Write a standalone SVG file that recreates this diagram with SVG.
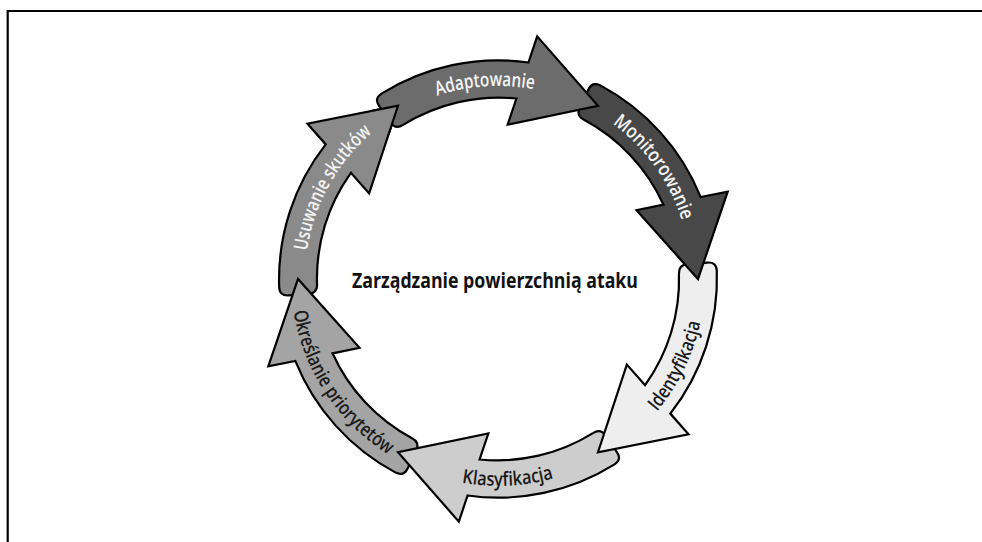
<svg xmlns="http://www.w3.org/2000/svg" xmlns:xlink="http://www.w3.org/1999/xlink" width="982" height="542" viewBox="0 0 982 542">
<style>
  .seg{stroke:#000;stroke-width:2.2;stroke-linejoin:miter;stroke-miterlimit:10}
  .lbl{font-family:"Open Sans","Liberation Sans",Arial,sans-serif;font-size:19.5px;font-weight:600}
  .wt{fill:#f4f4f4}
  .bk{fill:#1a1a1a}
  .title{font-family:"Open Sans","Liberation Sans",Arial,sans-serif;font-size:22px;font-weight:bold;fill:#111}
  .frame{stroke:#000;stroke-width:2.2;fill:none}
</style>
<defs>
  <path id="seg" d="M 600.3 85.4 A 219 219 0 0 1 700.7 197.1 L 727.7 191.6 L 698 279 L 636.5 210.2 L 663.5 204.7 A 181 181 0 0 0 584.0 119.7 Q 575.9 115.6 579.8 107.5 L 588.4 89.5 Q 592.3 81.3 600.3 85.4 Z"/>
  <path id="cw" d="M 305 279 A 193 193 0 0 1 691 279 A 193 193 0 0 1 305 279"/>
  <path id="ccw" d="M 291 279 A 207 207 0 0 0 705 279 A 207 207 0 0 0 291 279"/>
  <clipPath id="tipclip"><polygon points="498,279 317.5,39.4 385.6,0.8"/></clipPath>
</defs>
<rect width="982" height="542" fill="#fff"/>
<path class="frame" d="M 7.7 542 L 7.7 11 L 982 11"/>

<g id="usuwanie-skutkow">
  <use xlink:href="#seg" href="#seg" class="seg" fill="#8a8a8a" transform="rotate(-120 498 279)"/>
  <text class="lbl wt"><textPath xlink:href="#cw" href="#cw" startOffset="97" text-anchor="middle" textLength="138" lengthAdjust="spacingAndGlyphs">Usuwanie skutków</textPath></text>
</g>
<g id="okreslanie-priorytetow">
  <use xlink:href="#seg" href="#seg" class="seg" fill="#a4a4a4" transform="rotate(180 498 279)"/>
  <text class="lbl bk"><textPath xlink:href="#ccw" href="#ccw" startOffset="121" text-anchor="middle" textLength="177" lengthAdjust="spacingAndGlyphs">Określanie priorytetów</textPath></text>
</g>
<g id="klasyfikacja">
  <use xlink:href="#seg" href="#seg" class="seg" fill="#cdcdcd" transform="rotate(120 498 279)"/>
  <text class="lbl bk"><textPath xlink:href="#ccw" href="#ccw" startOffset="335" text-anchor="middle" textLength="93" lengthAdjust="spacingAndGlyphs">Klasyfikacja</textPath></text>
</g>
<g id="identyfikacja">
  <use xlink:href="#seg" href="#seg" class="seg" fill="#eeeeee" transform="rotate(60 498 279)"/>
  <text class="lbl bk"><textPath xlink:href="#ccw" href="#ccw" startOffset="556" text-anchor="middle" textLength="100" lengthAdjust="spacingAndGlyphs">Identyfikacja</textPath></text>
</g>
<g id="monitorowanie">
  <use xlink:href="#seg" href="#seg" class="seg" fill="#484848"/>
  <text class="lbl wt"><textPath xlink:href="#cw" href="#cw" startOffset="486" text-anchor="middle" textLength="121" lengthAdjust="spacingAndGlyphs">Monitorowanie</textPath></text>
</g>
<g id="adaptowanie">
  <use xlink:href="#seg" href="#seg" class="seg" fill="#6c6c6c" transform="rotate(-60 498 279)"/>
  <text class="lbl wt"><textPath xlink:href="#cw" href="#cw" startOffset="290" text-anchor="middle" textLength="98" lengthAdjust="spacingAndGlyphs">Adaptowanie</textPath></text>
</g>
<g id="usuwanie-skutkow-tip" clip-path="url(#tipclip)">
  <use xlink:href="#seg" href="#seg" class="seg" fill="#8a8a8a" transform="rotate(-120 498 279)"/>
</g>

<g id="centrum">
  <text class="title" x="495" y="288" text-anchor="middle" textLength="286" lengthAdjust="spacingAndGlyphs">Zarządzanie powierzchnią ataku</text>
</g>
</svg>
